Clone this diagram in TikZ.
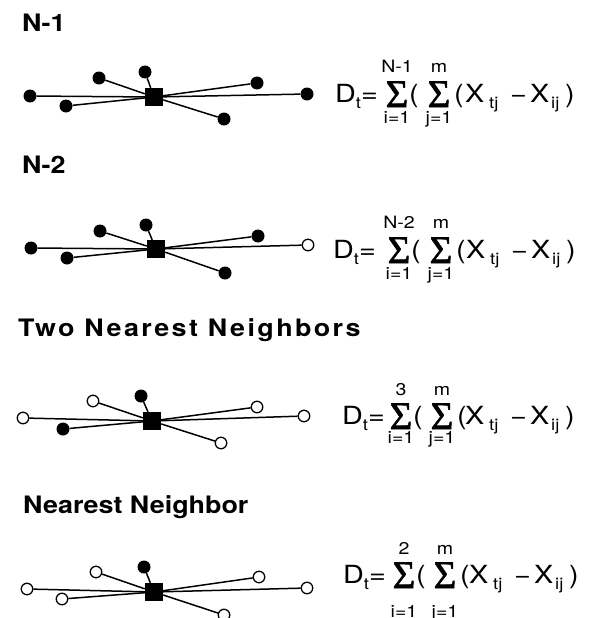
\documentclass[tikz,border=0pt]{standalone}
\usepackage{fontspec}
\setmainfont{TeX Gyre Heros}[FakeStretch=1.15]
\newfontfamily\ftitle{TeX Gyre Heros}[FakeStretch=1.12]
\newfontfamily\fspaced{TeX Gyre Heros}[FakeStretch=1.12,LetterSpace=10]
\newfontfamily\fsigma{Liberation Serif}[FakeBold=1.5]
\tikzset{
 dotf/.style={circle, fill=black, inner sep=0pt, minimum size=13pt},
 doto/.style={circle, draw=black, fill=white, line width=1.3pt, inner sep=0pt, minimum size=11.5pt},
 sqr/.style={rectangle, fill=black, inner sep=0pt, minimum size=18pt},
 edge/.style={line width=1.5pt},
 title/.style={anchor=base west, inner sep=0pt, font=\fontsize{24}{28}\selectfont\ftitle\bfseries},
 ftxt/.style={anchor=base west, inner sep=0pt, font=\fontsize{25}{29}\selectfont},
 fsubn/.style={anchor=base west, inner sep=0pt, font=\fontsize{16}{18}\selectfont},
 lim/.style={anchor=base, inner sep=0pt, font=\fontsize{17}{20}\selectfont},
 sig/.style={anchor=base, inner sep=0pt, text height=24pt, text depth=0pt, font=\fsigma\fontsize{39}{39}\selectfont},
}
\newcommand\drawstar[4]{%
  \node[sqr] (#1q) at (#2,#3) {};
  \foreach \n/\px/\py/\st in {#4} {
    \node[\st] (#1\n) at (\px,\py) {};
    \draw[edge] (#1\n) -- (#1q);
  }
}
\newcommand\drawformula[9]{%
  \node[ftxt] (#1D) at (#3,#2) {D\raisebox{-6pt}{\fontsize{16}{18}\selectfont t}=};
  \node[sig] (#1S) at (#4,#2+5) {Σ};
  \node[lim] (#1Su) at (#4,#2#7) {#6};
  \node[lim] (#1Sl) at (#4,#2#8) {i=1};
  \node[ftxt] (#1P) at (#4+12,#2) {(};
  \node[sig] (#1T) at (#5,#2+5) {Σ};
  \node[lim] (#1Tu) at (#5,#2#7) {m};
  \node[lim] (#1Tl) at (#5,#2#8) {j=1};
  \node[ftxt] (#1Q) at (#5+15,#2) {(};
  \node[ftxt] (#1X) at (465+#9,#2) {X};
  \node[fsubn] (#1tj) at (489+#9,#2+6) {tj};
  \node[ftxt] (#1M) at (510+#9,#2) {\char"2212};
  \node[ftxt] (#1Y) at (530+#9,#2) {X};
  \node[fsubn] (#1ij) at (551+#9,#2+6) {ij};
  \node[ftxt] (#1C) at (565+#9,#2) {)};
}
\begin{document}
\begin{tikzpicture}[x=1pt,y=-1pt]
\useasboundingbox (0,0) rectangle (590,618);
% titles
\node[title] (t1) at (22,32) {N-1};
\node[title] (t2) at (22,173) {N-2};
\node[title, font=\fontsize{24}{28}\selectfont\fspaced\bfseries] (t3) at (18,336) {Two Nearest Neighbors};
\node[title] (t4) at (23,513) {Nearest Neighbor};
% panel 1
\drawstar{A}{154}{97}{a/30/96/dotf, b/66/106/dotf, c/99/78/dotf, d/145/72/dotf, e/257/83/dotf, g/307/94/dotf, h/224/119/dotf}
\drawformula{FA}{102}{335}{397}{439}{N-1}{-30}{+21}{0}
% panel 2
\drawstar{B}{156}{249}{a/31/248/dotf, b/67/258/dotf, c/100/231/dotf, d/146/225/dotf, e/258/236/dotf, g/308/245/doto, h/225/273/dotf}
\drawformula{FB}{258}{333}{399}{441}{N-2}{-30}{+21}{1}
% panel 3
\drawstar{C}{152}{421}{a/23/418/doto, b/63/429/dotf, c/93/401/doto, d/141/396/dotf, e/257/407/doto, g/304/416/doto, h/221/443/doto}
\drawformula{FC}{424}{342}{401}{442}{3}{-29}{+19}{0}
% panel 4
\drawstar{D}{154}{592}{a/27/589/doto, b/62/599/doto, c/96/572/doto, d/144/567/dotf, e/259/577/doto, g/307/588/doto, h/224/615/doto}
\drawformula{FD}{583}{343}{404}{445}{2}{-29}{+34}{4}
\end{tikzpicture}
\end{document}
